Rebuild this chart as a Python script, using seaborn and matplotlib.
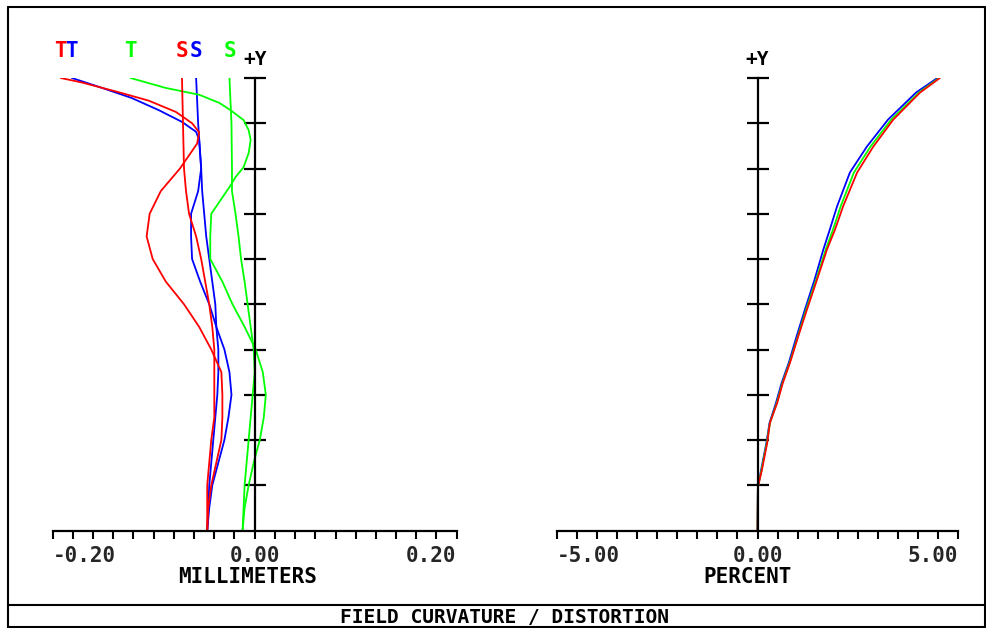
import matplotlib
matplotlib.use("Agg")
import matplotlib.pyplot as plt
from matplotlib.lines import Line2D
import seaborn as sns

# ---- field curvature (mm) versus normalised field, per wavelength ----
field_red_t = [1.0, 0.99, 0.97, 0.95, 0.925, 0.9, 0.88, 0.855, 0.8, 0.75, 0.7, 0.65, 0.6,
               0.55, 0.5, 0.45, 0.4, 0.35, 0.3, 0.25, 0.2, 0.15, 0.1, 0.05, 0.0]
red_t = [-0.192, -0.171, -0.137, -0.105, -0.078, -0.062, -0.055, -0.057, -0.074, -0.093,
         -0.104, -0.107, -0.101, -0.088, -0.070, -0.055, -0.043, -0.033, -0.032, -0.032,
         -0.033, -0.038, -0.043, -0.046, -0.047]

field_blue_t = [1.0, 0.978, 0.956, 0.929, 0.903, 0.881, 0.863, 0.8, 0.75, 0.7, 0.65, 0.6,
                0.55, 0.5, 0.45, 0.4, 0.35, 0.3, 0.25, 0.2, 0.15, 0.1, 0.05, 0.0]
blue_t = [-0.181, -0.151, -0.122, -0.095, -0.072, -0.058, -0.055, -0.053, -0.056, -0.063,
          -0.063, -0.062, -0.054, -0.045, -0.038, -0.030, -0.025, -0.023, -0.026, -0.030,
          -0.036, -0.042, -0.045, -0.047]

field_green_t = [1.0, 0.978, 0.963, 0.945, 0.929, 0.907, 0.885, 0.863, 0.834, 0.803, 0.781,
                 0.759, 0.7, 0.65, 0.6, 0.55, 0.5, 0.45, 0.4, 0.35, 0.3, 0.25, 0.2, 0.15,
                 0.1, 0.05, 0.0]
green_t = [-0.123, -0.088, -0.055, -0.035, -0.024, -0.011, -0.006, -0.004, -0.006, -0.011,
           -0.019, -0.025, -0.043, -0.044, -0.044, -0.032, -0.022, -0.010, 0.001, 0.008,
           0.011, 0.009, 0.005, -0.001, -0.006, -0.010, -0.012]

field_s = [1.0, 0.9, 0.8, 0.75, 0.7, 0.65, 0.6, 0.55, 0.5, 0.45, 0.4, 0.35, 0.3, 0.25, 0.2,
           0.15, 0.1, 0.05, 0.0]
red_s = [-0.072, -0.071, -0.070, -0.068, -0.065, -0.058, -0.053, -0.049, -0.045, -0.042,
         -0.040, -0.040, -0.040, -0.040, -0.043, -0.045, -0.047, -0.047, -0.047]
blue_s = [-0.058, -0.056, -0.053, -0.052, -0.050, -0.048, -0.045, -0.042, -0.039, -0.038,
          -0.036, -0.036, -0.037, -0.039, -0.041, -0.043, -0.045, -0.046, -0.047]
green_s = [-0.025, -0.023, -0.0225, -0.0225, -0.019, -0.016, -0.0135, -0.010, -0.007, -0.004,
           -0.001, 0.000, -0.002, -0.004, -0.006, -0.008, -0.010, -0.011, -0.012]

# ---- distortion (%) versus normalised field ----
field_dist = [0.0, 0.096, 0.134, 0.193, 0.238, 0.282, 0.326, 0.371, 0.428, 0.488, 0.554,
              0.621, 0.665, 0.716, 0.791, 0.848, 0.908, 0.968, 1.0]
dist_red = [0.0, 0.01, 0.11, 0.24, 0.31, 0.49, 0.63, 0.81, 1.01, 1.23, 1.48, 1.73, 1.93,
            2.13, 2.48, 2.88, 3.38, 4.05, 4.54]
dist_green = [0.0, 0.01, 0.10, 0.23, 0.31, 0.48, 0.62, 0.80, 1.00, 1.21, 1.46, 1.70, 1.88,
              2.07, 2.40, 2.81, 3.33, 4.02, 4.52]
dist_blue = [0.0, 0.01, 0.09, 0.22, 0.30, 0.46, 0.60, 0.78, 0.97, 1.18, 1.42, 1.64, 1.80,
             1.98, 2.30, 2.72, 3.25, 3.95, 4.48]

mm_ticks = [-0.20, 0.00, 0.20]
mm_tick_labels = ["-0.20", "0.00", "0.20"]
pct_ticks = [-5.0, 0.0, 5.0]
pct_tick_labels = ["-5.00", "0.00", "5.00"]
field_ticks = [0.1, 0.2, 0.3, 0.4, 0.5, 0.6, 0.7, 0.8, 0.9, 1.0]

RED, GREEN, BLUE = "#ff0000", "#00ff00", "#0000ff"
MONO = "DejaVu Sans Mono"

sns.set_style("white")
plt.rcParams["font.family"] = [MONO, "DejaVu Sans"]
plt.rcParams["font.weight"] = "bold"
plt.rcParams["axes.labelweight"] = "bold"

W, H = 987, 628
fig = plt.figure(figsize=(W / 100, H / 100), dpi=100)


def fx(px):
    return px / W


def fy(py):
    return 1 - py / H


def style_axis(ax, lo, hi, minor_step, ticks, labels, xlabel, label_x):
    ax.set_xlim(lo, hi)
    ax.set_ylim(0, 1)
    ax.set_facecolor("white")
    for side in ("top", "right"):
        ax.spines[side].set_visible(False)
    ax.spines["left"].set_position(("data", 0))
    for side in ("left", "bottom"):
        ax.spines[side].set_color("black")
        ax.spines[side].set_linewidth(1.6)
    ax.set_xticks(ticks)
    ax.set_xticklabels(labels)
    n = int(round((hi - lo) / minor_step))
    ax.set_xticks([lo + i * minor_step for i in range(n + 1)], minor=True)
    ax.tick_params(axis="x", which="both", bottom=True, direction="out", length=6,
                   width=1.5, color="black", labelsize=15, pad=5)
    for lbl, ha in zip(ax.get_xticklabels(), ("left", "center", "right")):
        lbl.set_ha(ha)
    ax.set_yticks(field_ticks)
    ax.tick_params(axis="y", which="major", left=True, direction="inout", length=16,
                   width=1.6, color="black", labelleft=False)
    ax.set_xlabel(xlabel, fontsize=15, color="black", fontweight="bold")
    ax.xaxis.set_label_coords(label_x, -0.103)
    ax.xaxis.label.set_va("center")
    ax.set_ylabel("")
    ax.grid(False)
    ax.text(0, 1.041, "+Y", transform=ax.get_xaxis_transform(), ha="center", va="center",
            fontsize=14, color="black")


def curve(ax, x, y, color):
    sns.lineplot(x=x, y=y, ax=ax, color=color, lw=1.3, orient="y", estimator=None,
                 sort=False)


# left panel: field curvature
ax1 = fig.add_axes([fx(52.7), fy(530.5), fx(404.0), 452.5 / H])
curve(ax1, blue_t, field_blue_t, BLUE)
curve(ax1, blue_s, field_s, BLUE)
curve(ax1, green_t, field_green_t, GREEN)
curve(ax1, green_s, field_s, GREEN)
curve(ax1, red_t, field_red_t, RED)
curve(ax1, red_s, field_s, RED)
style_axis(ax1, -0.2, 0.2, 0.02, mm_ticks, mm_tick_labels, "MILLIMETERS", 0.483)

# curve identifiers above the top of each curve
for xs, tag, color in ((blue_t, "T", BLUE), (red_t, "T", RED), (green_t, "T", GREEN),
                       (blue_s, "S", BLUE), (red_s, "S", RED), (green_s, "S", GREEN)):
    ax1.text(xs[0], 1.06, tag, transform=ax1.get_xaxis_transform(), ha="center",
             va="center", fontsize=15, color=color)

# right panel: distortion
ax2 = fig.add_axes([fx(556.7), fy(530.5), fx(401.6), 452.5 / H])
curve(ax2, dist_blue, field_dist, BLUE)
curve(ax2, dist_green, field_dist, GREEN)
curve(ax2, dist_red, field_dist, RED)
style_axis(ax2, -5.0, 5.0, 0.5, pct_ticks, pct_tick_labels, "PERCENT", 0.475)

# page frame, footer separator and footer title
frame_kw = dict(color="black", lw=1.5, transform=fig.transFigure)
fig.add_artist(Line2D([fx(8), fx(8)], [fy(7), fy(628)], **frame_kw))
fig.add_artist(Line2D([fx(8), fx(985)], [fy(7), fy(7)], **frame_kw))
fig.add_artist(Line2D([fx(985), fx(985)], [fy(7), fy(628)], **frame_kw))
fig.add_artist(Line2D([fx(8), fx(987)], [fy(605), fy(605)], **frame_kw))
fig.add_artist(Line2D([fx(8), fx(987)], [fy(627), fy(627)], **frame_kw))
fig.text(fx(505), fy(623), "FIELD CURVATURE / DISTORTION", ha="center",
         va="baseline", fontsize=14, color="black")

fig.savefig("out.png", dpi=100, facecolor="white")
